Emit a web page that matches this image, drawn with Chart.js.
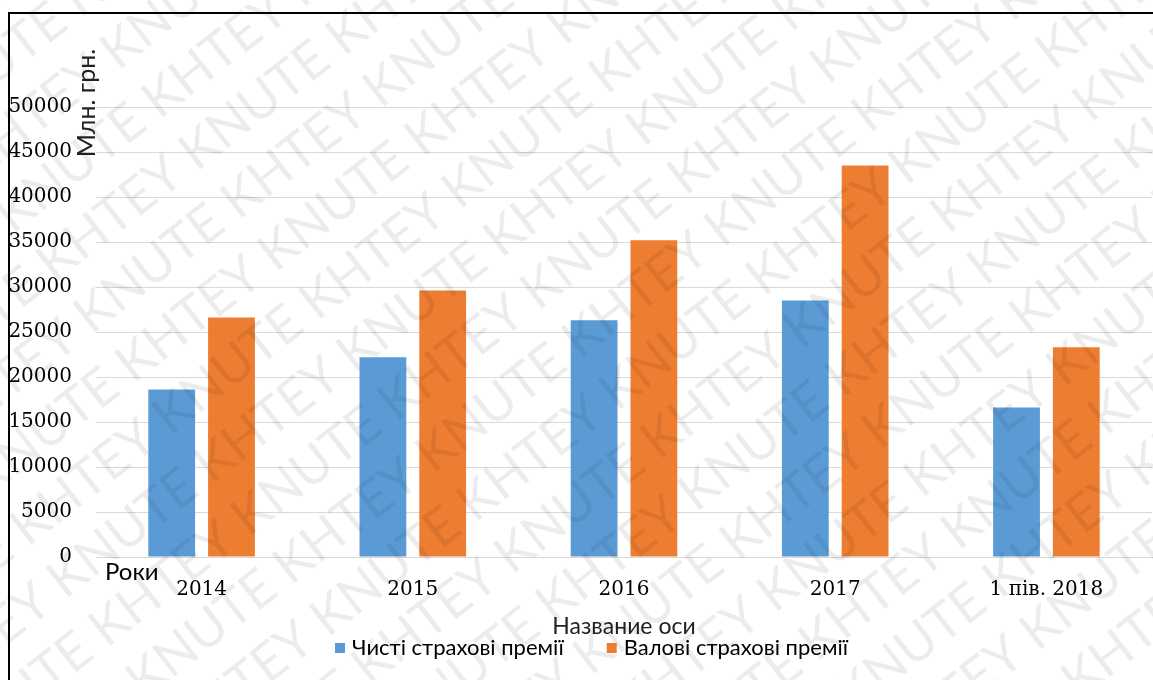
<!DOCTYPE html>
<html>
<head>
	<meta http-equiv="Content-Type" content="text/html; charset=utf-8"/>
	<script type="text/javascript" src="https://cdn.jsdelivr.net/npm/chart.js@4/dist/chart.umd.min.js"></script>
	<style type="text/css">
		body{ margin:0; background:#fff; overflow:hidden; }
		#wrap{ position:relative; width:1153px; height:680px; }
		#frame{ position:absolute; left:8px; top:12px; width:1200px; height:700px;
			border-left:2px solid #000; border-top:2px solid #000; pointer-events:none; }
	</style>
</head>
<body>
<div id="wrap">
	<canvas id="chart" width="1153" height="680"></canvas>
	<div id="frame"></div>
</div>
<script type="text/javascript">
	// дані діаграми
	var roky = ["2014", "2015", "2016", "2017", "1 пів. 2018"];
	var chysti = [18600, 22200, 26300, 28500, 16600];
	var valovi = [26600, 29600, 35200, 43500, 23300];
	var nazvy = ["Чисті страхові премії", "Валові страхові премії"];
	var kolory = ["#5b9bd5", "#ed7d31"];
	var yMax = 50000, yKrok = 5000;

	var sans = "Lato, 'Open Sans', sans-serif";
	var serif = "'DejaVu Serif', serif";

	// підписи, легенда та водяний знак
	var dopys = {
		id: "dopys",
		afterDraw: function(chart){
			var ctx = chart.ctx;
			ctx.save();
			ctx.fillStyle = "#000";
			ctx.font = "24px " + sans;
			ctx.textBaseline = "middle";
			ctx.textAlign = "left";
			ctx.fillText("Роки", 105, 572);

			// назва осі Y
			ctx.save();
			ctx.translate(87, 103);
			ctx.rotate(-Math.PI/2);
			ctx.textAlign = "center";
			ctx.font = "25px " + sans;
			ctx.fillStyle = "#222";
			ctx.fillText("Млн. грн.", 0, 0);
			ctx.restore();

			// легенда
			ctx.font = "22px " + sans;
			ctx.textAlign = "left";
			var x = 335, y = 648;
			chart.data.datasets.forEach(function(ds){
				ctx.fillStyle = ds.backgroundColor;
				ctx.fillRect(x, y - 5, 10, 10);
				ctx.fillStyle = "#000";
				ctx.fillText(ds.label, x + 17, y);
				x += 17 + ctx.measureText(ds.label).width + 43;
			});

			// водяний знак
			ctx.font = "52px " + sans;
			ctx.fillStyle = "rgba(0,0,0,0.075)";
			ctx.rotate(-38 * Math.PI/180);
			var fraza = "KHTEY KNUTE ";
			var ryadok = "";
			for (var k = 0; k < 10; k++) ryadok += fraza;
			var w = ctx.measureText(fraza).width;
			for (var r = -8; r < 28; r++) {
				var sx = -1600 + (r % 2 ? w/2 : 0);
				ctx.fillText(ryadok, sx, r * 64 - 400);
			}
			ctx.restore();
		}
	};

	var canvas = document.getElementById("chart").getContext("2d");
	window.bar = new Chart(canvas, {
		type: "bar",
		data: {
			labels: roky,
			datasets: [
				{ label: nazvy[0], data: chysti, backgroundColor: kolory[0] },
				{ label: nazvy[1], data: valovi, backgroundColor: kolory[1] }
			]
		},
		options: {
			responsive: false,
			devicePixelRatio: 1,
			animation: false,
			categoryPercentage: 0.566,
			barPercentage: 0.783,
			layout: { padding: { top: 107, right: 1, left: 0, bottom: 0 } },
			plugins: {
				legend: { display: false },
				tooltip: { enabled: false }
			},
			scales: {
				x: {
					grid: { display: false, drawTicks: false },
					border: { color: "#d9d9d9" },
					ticks: { color: "#000", font: { family: serif, size: 20 }, padding: 21, maxRotation: 0 },
					title: { display: true, text: "Название оси", color: "#222",
						font: { family: sans, size: 23 }, padding: { top: 0, bottom: 40 } },
					afterFit: function(s){ s.height = 123; }
				},
				y: {
					min: 0, max: yMax,
					grid: { color: "#d9d9d9", drawTicks: false },
					border: { display: false },
					ticks: { stepSize: yKrok, color: "#000", font: { family: serif, size: 20 }, padding: 24,
						callback: function(v){ return String(v); } },
					afterFit: function(s){ s.width = 96; }
				}
			}
		},
		plugins: [dopys]
	});
</script>
</body>
</html>
